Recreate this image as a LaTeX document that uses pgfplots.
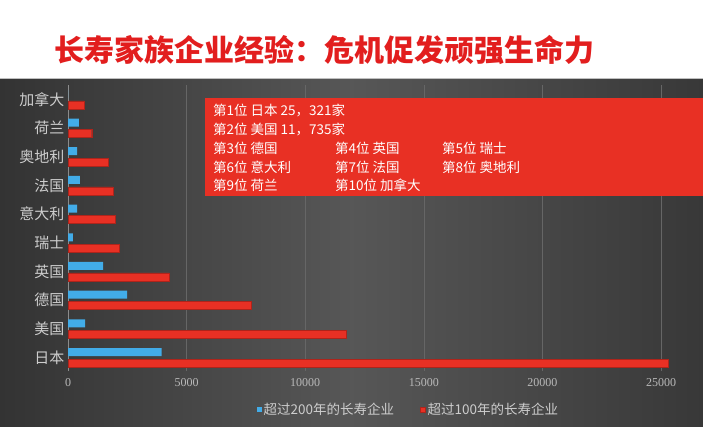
\documentclass[border=0pt]{standalone}
\usepackage{pgfplots}
\pgfplotsset{compat=1.18}
\usepackage{fontspec}
\setmainfont{Liberation Serif}
\newfontfamily\cjk{Noto Sans CJK SC}
\definecolor{barred}{RGB}{232,48,36}
\definecolor{barblue}{RGB}{66,172,232}
\definecolor{titlered}{RGB}{226,30,30}
\definecolor{lbl}{RGB}{205,205,205}

% 超过200年 / 超过100年的长寿企业 (y: 0 = 日本 ... 9 = 加拿大)
\pgfplotstableread{
y  old200  old100
0  3950   25321
1  720    11735
2  2490   7715
3  1480   4260
4  210    2150
5  380    1980
6  500    1900
7  380    1690
8  460    1000
9  0      690
}\firms

\begin{document}
\begin{tikzpicture}[x=1pt,y=1pt]
\useasboundingbox (0,0) rectangle (703,-426);
\fill[white] (0,0) rectangle (703,-426);
\shade[left color=black!80, right color=black!78, middle color=black!66] (0,-78) rectangle (703,-426);
\draw[black!25] (0,-78) -- (703,-78);
\node[anchor=west, text=titlered, font=\cjk\bfseries\fontsize{30}{31}\selectfont] at (51,-50) {长寿家族企业经验：危机促发顽强生命力};

\begin{axis}[
  at={(68pt,-371pt)}, anchor=south west,
  scale only axis, width=602.5pt, height=286pt,
  xbar, bar width=8pt,
  xmin=0, xmax=25400, ymin=-0.47, ymax=9.5,
  axis lines*=left,
  x axis line style={draw=none},
  y axis line style={draw=black!45},
  xtick={0,5000,10000,15000,20000,25000},
  scaled x ticks=false,
  /pgf/number format/assume math mode=true,
  /pgf/number format/set thousands separator={},
  xticklabel style={font=\fontsize{12}{13}\selectfont, text=lbl!90!black, yshift=-4pt},
  ytick={0,...,9},
  yticklabels={日本,美国,德国,英国,瑞士,意大利,法国,奥地利,荷兰,加拿大},
  yticklabel style={font=\cjk\fontsize{15}{16}\selectfont, text=lbl},
  major tick length=0pt,
  xmajorgrids, major grid style={black!60, line width=0.6pt},
  legend style={at={(axis description cs:0.565,-0.136)}, anchor=center,
    draw=none, fill=none, legend columns=2, text=lbl,
    font=\cjk\fontsize{13.5}{14}\selectfont,
    /tikz/every even column/.append style={column sep=24pt}},
  legend image code/.code={\fill[#1] (0pt,-2.5pt) rectangle (5pt,2.5pt);},
]
\addplot[fill=barblue, draw=none, bar shift=5.5pt] table[x=old200, y=y] {\firms};
\addplot[fill=barred, draw=barred!75!black, line width=0.4pt, bar shift=-5.5pt] table[x=old100, y=y] {\firms};
\legend{超过200年的长寿企业, 超过100年的长寿企业}
\end{axis}

\fill[barred] (205,-98) rectangle (703,-196);
\begin{scope}[every node/.style={anchor=west, text=white, inner sep=0pt, font=\cjk\fontsize{13.5}{14}\selectfont}]
\node at (213,-111) {第1位 日本 25，321家};
\node at (213,-130) {第2位 美国 11，735家};
\node at (213,-148) {第3位 德国};
\node at (335,-148) {第4位 英国};
\node at (442,-148) {第5位 瑞士};
\node at (213,-167) {第6位 意大利};
\node at (335,-167) {第7位 法国};
\node at (442,-167) {第8位 奥地利};
\node at (213,-185) {第9位 荷兰};
\node at (335,-185) {第10位 加拿大};
\end{scope}
\end{tikzpicture}
\end{document}
